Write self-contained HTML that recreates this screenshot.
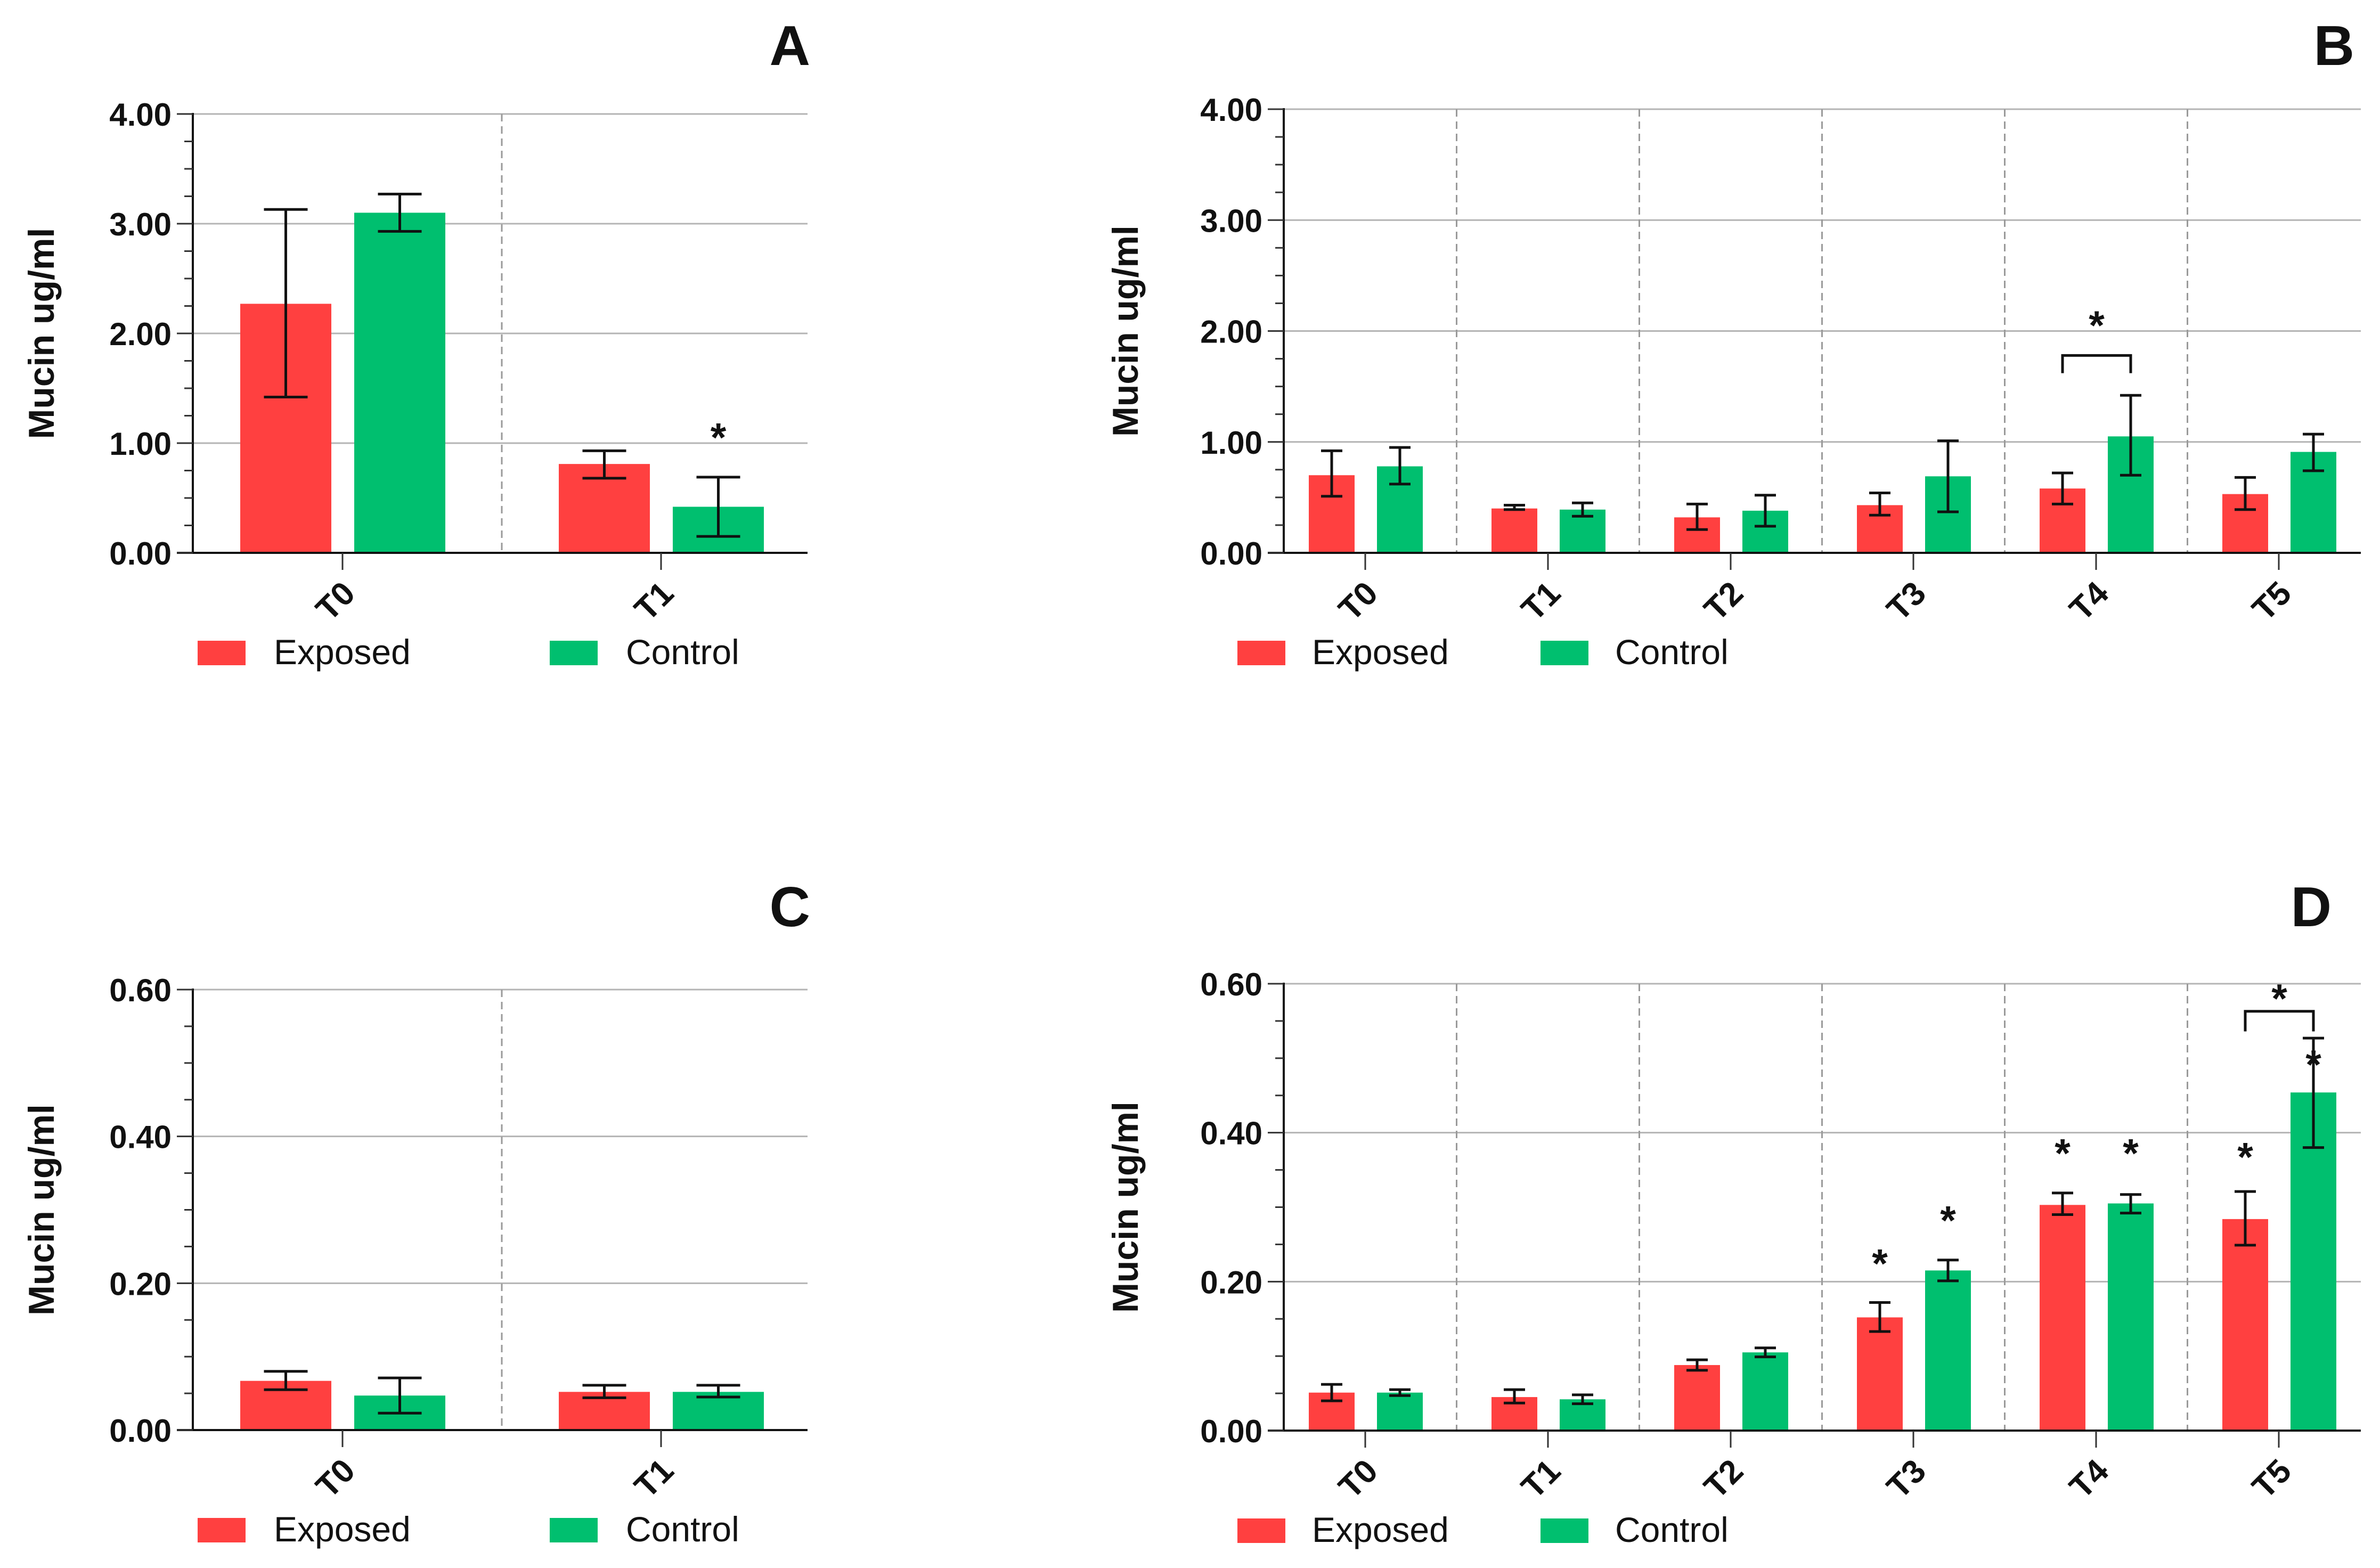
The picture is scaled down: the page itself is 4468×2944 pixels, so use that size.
<!DOCTYPE html>
<html><head><meta charset="utf-8"><style>
html,body{margin:0;padding:0;background:#fff;}
svg{display:block;font-family:"Liberation Sans",Arial,sans-serif;}
</style></head><body>
<svg id="fig" width="4468" height="2944" viewBox="0 0 4468 2944" xmlns="http://www.w3.org/2000/svg"></svg>
<script>
// ---------- data ----------
const catsA = ["T0","T1"];
const expA = [2.27, 0.81];
const expAlo = [1.42, 0.68];
const expAhi = [3.13, 0.93];
const ctlA = [3.10, 0.42];
const ctlAlo = [2.93, 0.15];
const ctlAhi = [3.27, 0.69];
const ticksA = [0, 1, 2, 3, 4];
const tickLabA = ["0.00","1.00","2.00","3.00","4.00"];

const catsB = ["T0","T1","T2","T3","T4","T5"];
const expB = [0.70, 0.40, 0.32, 0.43, 0.58, 0.53];
const expBlo = [0.51, 0.39, 0.21, 0.34, 0.44, 0.39];
const expBhi = [0.92, 0.43, 0.44, 0.54, 0.72, 0.68];
const ctlB = [0.78, 0.39, 0.38, 0.69, 1.05, 0.91];
const ctlBlo = [0.62, 0.33, 0.24, 0.37, 0.70, 0.74];
const ctlBhi = [0.95, 0.45, 0.52, 1.01, 1.42, 1.07];
const ticksB = [0, 1, 2, 3, 4];
const tickLabB = ["0.00","1.00","2.00","3.00","4.00"];

const catsC = ["T0","T1"];
const expC = [0.067, 0.052];
const expClo = [0.055, 0.044];
const expChi = [0.080, 0.061];
const ctlC = [0.047, 0.052];
const ctlClo = [0.023, 0.045];
const ctlChi = [0.071, 0.061];
const ticksC = [0, 0.2, 0.4, 0.6];
const tickLabC = ["0.00","0.20","0.40","0.60"];

const catsD = ["T0","T1","T2","T3","T4","T5"];
const expD = [0.051, 0.045, 0.088, 0.152, 0.303, 0.284];
const expDlo = [0.040, 0.037, 0.081, 0.133, 0.290, 0.249];
const expDhi = [0.062, 0.055, 0.095, 0.172, 0.319, 0.321];
const ctlD = [0.051, 0.042, 0.105, 0.215, 0.305, 0.454];
const ctlDlo = [0.047, 0.036, 0.099, 0.201, 0.292, 0.380];
const ctlDhi = [0.055, 0.048, 0.111, 0.229, 0.317, 0.527];
const ticksD = [0, 0.2, 0.4, 0.6];
const tickLabD = ["0.00","0.20","0.40","0.60"];

// significance stars: [series, categoryIndex, value]
const starsA = [["ctl", 1, 1.07]];
const starsD = [["exp",3,0.227],["ctl",3,0.285],["exp",4,0.375],["ctl",4,0.375],["exp",5,0.370],["ctl",5,0.494]];
// brackets: [categoryIndex, topValue, legValue, starValue]
const bracketB = [[4, 1.78, 1.62, 2.07]];
const bracketD = [[5, 0.563, 0.536, 0.583]];

// ---------- rendering ----------
const NS = "http://www.w3.org/2000/svg";
const svg = document.getElementById("fig");
const RED = "#FF4040", GREEN = "#00BF6F";
function mk(tag, attrs, parent, text){
  const e = document.createElementNS(NS, tag);
  for (const k in attrs) e.setAttribute(k, attrs[k]);
  if (text !== undefined) e.textContent = text;
  (parent || svg).appendChild(e);
  return e;
}

function panel(p){
  const g = mk("g", {});
  
  
  const y = v => p.bottom - (v / p.ymax) * (p.bottom - p.top);
  const cx = i => p.c0 + i * p.step;
  p.ticks.forEach((t) => {
    if (t === 0) return;
    const l = mk("line", {x1:p.x0, x2:p.x1, y1:y(t), y2:y(t), stroke:"#b4b4b4", "stroke-width":3}, g);
    
    
  });
  for (let i = 0; i < p.cats.length - 1; i++) {
    const x = cx(i) + p.step / 2;
    const d = mk("line", {x1:x, x2:x, y1:p.top, y2:p.bottom, stroke:"#9a9a9a", "stroke-width":3, "stroke-dasharray":"14,9"}, g);
    
    
  }
  const series = [["exp", p.exp, p.expLo, p.expHi, RED, p.offE], ["ctl", p.ctl, p.ctlLo, p.ctlHi, GREEN, p.offC]];
  series.forEach(([nm, vals, lo, hi, col, off]) => {
    vals.forEach((v, i) => {
      const bx = cx(i) + off;
      const r = mk("rect", {x:bx, y:y(v), width:p.bw, height:p.bottom - y(v), fill:col}, g);
      
      
      const mx = bx + p.bw / 2;
      const eg = mk("g", {stroke:"#111", "stroke-width":5, fill:"none"}, g);
      
      
      mk("line", {x1:mx, x2:mx, y1:y(lo[i]), y2:y(hi[i])}, eg);
      mk("line", {x1:mx - p.cap, x2:mx + p.cap, y1:y(lo[i]), y2:y(lo[i])}, eg);
      mk("line", {x1:mx - p.cap, x2:mx + p.cap, y1:y(hi[i]), y2:y(hi[i])}, eg);
    });
  });
  (p.stars || []).forEach(([nm, i, v]) => {
    const mx = cx(i) + (nm === "exp" ? p.offE : p.offC) + p.bw / 2;
    const s = mk("text", {x:mx, y:y(v) + 30, "text-anchor":"middle", "font-size":76, "font-weight":"bold", fill:"#111"}, g, "*");
    
    
  });
  (p.brackets || []).forEach(([i, top, leg, sv]) => {
    const xa = cx(i) + p.offE + p.bw / 2, xb = cx(i) + p.offC + p.bw / 2;
    const b = mk("path", {d:`M${xa},${y(leg)} V${y(top)} H${xb} V${y(leg)}`, stroke:"#111", "stroke-width":5, fill:"none"}, g);
    
    
    const s = mk("text", {x:(xa + xb) / 2, y:y(sv) + 30, "text-anchor":"middle", "font-size":76, "font-weight":"bold", fill:"#111"}, g, "*");
    
    
  });
  const ya = mk("line", {x1:p.x0, x2:p.x0, y1:p.top - 2, y2:p.bottom, stroke:"#111", "stroke-width":4}, g);
  
  
  const xa = mk("line", {x1:p.x0 - 30, x2:p.x1, y1:p.bottom, y2:p.bottom, stroke:"#111", "stroke-width":4}, g);
  
  
  const minorStep = (p.ticks[1] - p.ticks[0]) / 4;
  for (let k = 0; k <= Math.round(p.ymax / minorStep); k++) {
    const v = k * minorStep, major = k % 4 === 0;
    mk("line", {x1:p.x0 - (major ? 30 : 16), x2:p.x0, y1:y(v), y2:y(v), stroke:"#333", "stroke-width":3}, g);
  }
  p.ticks.forEach((t, i) => {
    const tl = mk("text", {x:p.x0 - 40, y:y(t) + 22, "text-anchor":"end", "font-size":60, "font-weight":"bold", fill:"#111"}, g, p.tickLab[i]);
    
    
  });
  p.cats.forEach((c, i) => {
    mk("line", {x1:cx(i), x2:cx(i), y1:p.bottom, y2:p.bottom + 32, stroke:"#333", "stroke-width":3}, g);
    const lx = cx(i) - 14, ly = p.bottom + 90;
    const t = mk("text", {x:lx, y:ly + 22, "text-anchor":"middle", "font-size":62, "font-weight":"bold", fill:"#111", transform:`rotate(-45 ${lx} ${ly})`}, g, c);
    
    
  });
  const ty = (p.top + p.bottom) / 2;
  const yt = mk("text", {x:p.titleX, y:ty, "text-anchor":"middle", "font-size":68, "font-weight":"bold", fill:"#111", transform:`rotate(-90 ${p.titleX} ${ty})`, dy:24}, g, "Mucin ug/ml");
  
  
  const pl = mk("text", {x:p.letterX, y:p.letterY, "text-anchor":"end", "font-size":106, "font-weight":"bold", fill:"#111"}, g, p.letter);
  
  
  const lg = mk("g", {}, g);
  
  
  const ly = p.bottom + 165;
  [["Exposed", RED, p.legE], ["Control", GREEN, p.legC]].forEach(([lab, col, lx]) => {
    const e = mk("g", {}, lg);
    
    
    mk("rect", {x:lx, y:ly, width:p.sw, height:46, fill:col}, e);
    mk("text", {x:lx + p.sw + p.tg, y:ly + 44, "font-size":66, fill:"#111"}, e, lab);
  });
}

const common6 = {x0:2410, x1:4432, c0:2563, step:343, bw:86, offE:-106, offC:22, cap:20, titleX:2112, legE:2323, legC:2892, sw:90, tg:50};
const common2 = {x0:362, x1:1516, c0:643, step:598, bw:171, offE:-192, offC:22, cap:41, titleX:77, legE:371, legC:1032, sw:90, tg:53};

panel(Object.assign({}, common2, {letter:"A", top:214, bottom:1038, ymax:4, ticks:ticksA, tickLab:tickLabA, cats:catsA,
  exp:expA, expLo:expAlo, expHi:expAhi, ctl:ctlA, ctlLo:ctlAlo, ctlHi:ctlAhi, stars:starsA, letterX:1521, letterY:122}));
panel(Object.assign({}, common6, {letter:"B", top:205, bottom:1038, ymax:4, ticks:ticksB, tickLab:tickLabB, cats:catsB,
  exp:expB, expLo:expBlo, expHi:expBhi, ctl:ctlB, ctlLo:ctlBlo, ctlHi:ctlBhi, brackets:bracketB, letterX:4420, letterY:122}));
panel(Object.assign({}, common2, {letter:"C", top:1858, bottom:2685, ymax:0.6, ticks:ticksC, tickLab:tickLabC, cats:catsC,
  exp:expC, expLo:expClo, expHi:expChi, ctl:ctlC, ctlLo:ctlClo, ctlHi:ctlChi, letterX:1521, letterY:1739}));
panel(Object.assign({}, common6, {letter:"D", top:1847, bottom:2686, ymax:0.6, ticks:ticksD, tickLab:tickLabD, cats:catsD,
  exp:expD, expLo:expDlo, expHi:expDhi, ctl:ctlD, ctlLo:ctlDlo, ctlHi:ctlDhi, stars:starsD, brackets:bracketD, letterX:4377, letterY:1739}));
</script>
</body></html>
